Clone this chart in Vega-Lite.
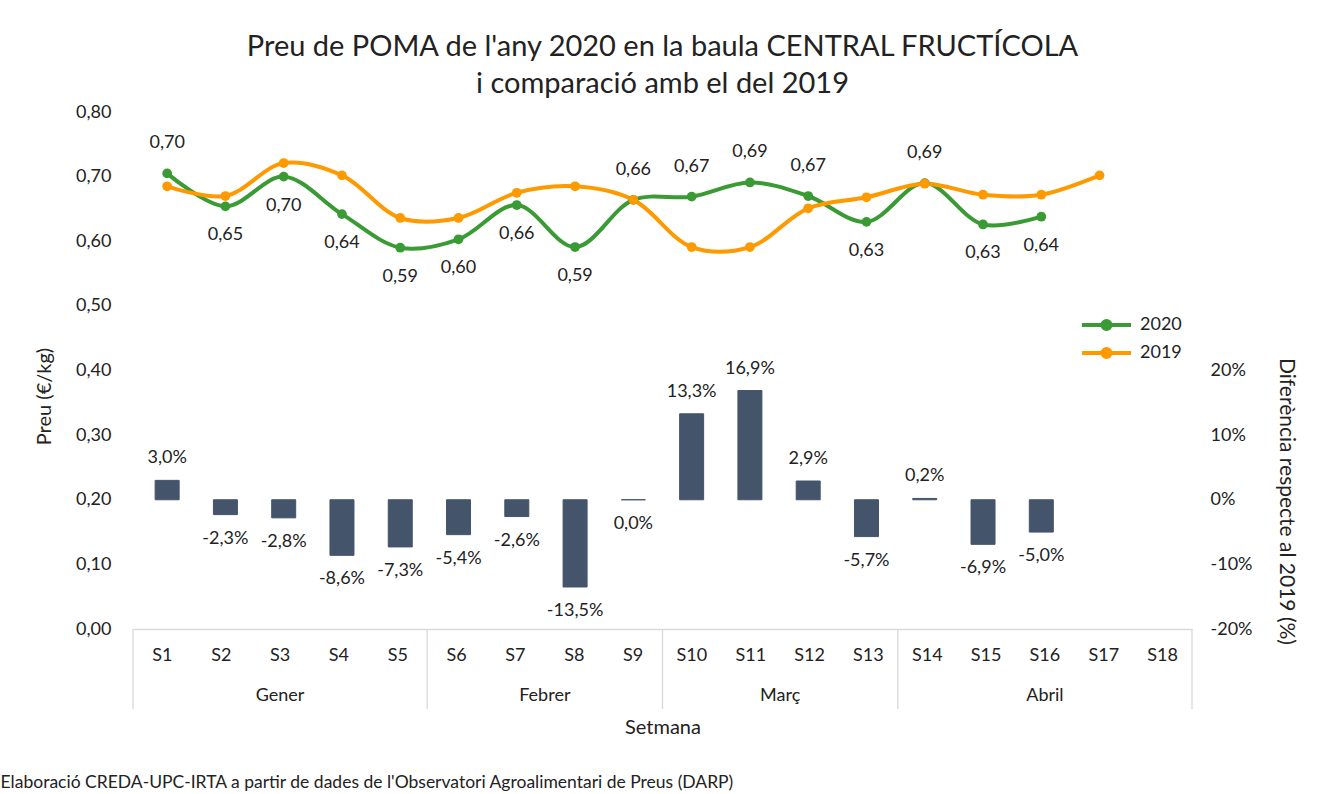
{
  "$schema": "https://vega.github.io/schema/vega-lite/v6.json",
  "padding": {"left": 0, "top": 33, "right": 5, "bottom": 0},
  "background": "white",
  "spacing": 0,
  "bounds": "flush",
  "config": {
    "locale": {"number": {"decimal": ",", "thousands": ".", "grouping": [3], "currency": ["", " €"], "minus": "-"}},
    "font": "Lato",
    "view": {"stroke": null},
    "axis": {"labelFont": "Lato", "titleFont": "Lato", "labelFontSize": 18, "titleFontSize": 20, "labelColor": "#222", "titleColor": "#222", "titleFontWeight": "normal"},
    "text": {"font": "Lato", "fontSize": 18, "color": "#222"},
    "legend": {"labelFont": "Lato", "labelFontSize": 18, "labelColor": "#222"}
  },
  "datasets": {
    "preus": [
      {"setmana": "S1", "n": 1, "2020": 0.705, "2019": 0.685, "dif": 0.030},
      {"setmana": "S2", "n": 2, "2020": 0.654, "2019": 0.670, "dif": -0.023},
      {"setmana": "S3", "n": 3, "2020": 0.700, "2019": 0.721, "dif": -0.028},
      {"setmana": "S4", "n": 4, "2020": 0.642, "2019": 0.702, "dif": -0.086},
      {"setmana": "S5", "n": 5, "2020": 0.590, "2019": 0.636, "dif": -0.073},
      {"setmana": "S6", "n": 6, "2020": 0.603, "2019": 0.636, "dif": -0.054},
      {"setmana": "S7", "n": 7, "2020": 0.656, "2019": 0.675, "dif": -0.026},
      {"setmana": "S8", "n": 8, "2020": 0.591, "2019": 0.685, "dif": -0.135},
      {"setmana": "S9", "n": 9, "2020": 0.664, "2019": 0.664, "dif": 0.0},
      {"setmana": "S10", "n": 10, "2020": 0.669, "2019": 0.591, "dif": 0.133},
      {"setmana": "S11", "n": 11, "2020": 0.691, "2019": 0.591, "dif": 0.169},
      {"setmana": "S12", "n": 12, "2020": 0.670, "2019": 0.651, "dif": 0.029},
      {"setmana": "S13", "n": 13, "2020": 0.630, "2019": 0.668, "dif": -0.057},
      {"setmana": "S14", "n": 14, "2020": 0.690, "2019": 0.689, "dif": 0.002},
      {"setmana": "S15", "n": 15, "2020": 0.626, "2019": 0.672, "dif": -0.069},
      {"setmana": "S16", "n": 16, "2020": 0.638, "2019": 0.672, "dif": -0.050},
      {"setmana": "S17", "n": 17, "2020": null, "2019": 0.702, "dif": null},
      {"setmana": "S18", "n": 18, "2020": null, "2019": null, "dif": null}
    ],
    "mesos": [
      {"mes": "Gener", "primera": 1, "darrera": 5},
      {"mes": "Febrer", "primera": 6, "darrera": 9},
      {"mes": "Març", "primera": 10, "darrera": 13},
      {"mes": "Abril", "primera": 14, "darrera": 18}
    ]
  },
  "title": {
    "text": "Elaboració CREDA-UPC-IRTA a partir de dades de l'Observatori Agroalimentari de Preus (DARP)",
    "orient": "bottom", "anchor": "start", "fontSize": 17.5, "fontWeight": "normal", "color": "#222", "offset": 37, "dx": -34
  },
  "vconcat": [
    {
      "width": 1059, "height": 517,
      "title": {
        "text": ["Preu de POMA de l'any 2020 en la baula CENTRAL FRUCTÍCOLA", "i comparació amb el del 2019"],
        "fontSize": 29, "fontWeight": "normal", "color": "#222", "lineHeight": 37, "offset": 4, "anchor": "middle"
      },
      "data": {"name": "preus"},
      "encoding": {
        "x": {"field": "n", "type": "quantitative", "scale": {"domain": [0.5, 18.5], "nice": false, "zero": false},
              "axis": {"title": null, "labels": false, "ticks": false, "grid": false, "domainColor": "#d9d9d9", "domainWidth": 1.3, "minExtent": 0, "maxExtent": 0}}
      },
      "layer": [
        {
          "encoding": {
            "y": {"field": "dif", "type": "quantitative", "scale": {"domain": [-0.2, 0.6], "nice": false, "zero": false},
                  "axis": {"orient": "right", "values": [-0.2, -0.1, 0, 0.1, 0.2], "format": ".0%", "grid": false, "domain": false, "ticks": false,
                           "labelPadding": 18, "title": "Diferència respecte al 2019 (%)", "titleFontSize": 21, "titlePadding": 24, "titleY": 389}}
          },
          "layer": [
            {"mark": {"type": "bar", "width": 24, "color": "#44546A", "stroke": "#44546A", "strokeWidth": 1}},
            {"transform": [{"filter": "isValid(datum.dif) && datum.dif > 0"}],
             "mark": {"type": "text", "dy": -22},
             "encoding": {"text": {"field": "dif", "type": "quantitative", "format": ".1%"}}},
            {"transform": [{"filter": "isValid(datum.dif) && datum.dif <= 0"}],
             "mark": {"type": "text", "dy": 24},
             "encoding": {"text": {"field": "dif", "type": "quantitative", "format": ".1%"}}}
          ]
        },
        {
          "transform": [{"fold": ["2020", "2019"], "as": ["any", "preu"]}, {"filter": "isValid(datum.preu)"}],
          "encoding": {
            "y": {"field": "preu", "type": "quantitative", "scale": {"domain": [0, 0.8], "nice": false},
                  "axis": {"orient": "left", "values": [0, 0.1, 0.2, 0.3, 0.4, 0.5, 0.6, 0.7, 0.8], "format": ".2f", "gridColor": "#d9d9d9", "gridWidth": 1.3,
                           "domain": false, "ticks": false, "labelPadding": 22, "title": "Preu (€/kg)", "titlePadding": 21, "titleY": 284}},
            "color": {"field": "any", "type": "nominal", "scale": {"domain": ["2020", "2019"], "range": ["#3A9A34", "#FF9900"]},
                      "legend": {"title": null, "orient": "none", "legendX": 964.5, "legendY": 204, "padding": 0,
                                 "symbolType": "M-4.9,0H4.9M0.8,0A0.8,0.8,0,1,1,-0.8,0A0.8,0.8,0,1,1,0.8,0",
                                 "symbolSize": 100, "symbolStrokeWidth": 4, "rowPadding": 4, "labelOffset": 24.5}}
          },
          "layer": [
            {"mark": {"type": "line", "interpolate": "catmull-rom", "strokeWidth": 4}},
            {"mark": {"type": "point", "filled": true, "size": 95, "opacity": 1}},
            {"transform": [{"filter": "datum.any == '2020' && indexof(['S1','S9','S10','S11','S12','S14'], datum.setmana) >= 0"}],
             "mark": {"type": "text", "dy": -30},
             "encoding": {"text": {"field": "preu", "type": "quantitative", "format": ".2f"}, "color": {"value": "#222"}}},
            {"transform": [{"filter": "datum.any == '2020' && indexof(['S1','S9','S10','S11','S12','S14'], datum.setmana) < 0"}],
             "mark": {"type": "text", "dy": 29},
             "encoding": {"text": {"field": "preu", "type": "quantitative", "format": ".2f"}, "color": {"value": "#222"}}}
          ]
        }
      ],
      "resolve": {"scale": {"y": "independent"}}
    },
    {
      "width": 1059, "height": 54,
      "encoding": {
        "x": {"field": "pos", "type": "quantitative", "scale": {"domain": [0.5, 18.5], "nice": false, "zero": false}, "axis": null}
      },
      "layer": [
        {"data": {"name": "mesos"}, "transform": [{"calculate": "datum.primera - 0.5", "as": "pos"}],
         "mark": {"type": "rule", "color": "#d9d9d9", "strokeWidth": 1.3}},
        {"data": {"name": "mesos"}, "transform": [{"filter": "datum.darrera == 18"}, {"calculate": "datum.darrera + 0.5", "as": "pos"}],
         "mark": {"type": "rule", "color": "#d9d9d9", "strokeWidth": 1.3}},
        {"data": {"name": "preus"}, "transform": [{"calculate": "datum.n", "as": "pos"}],
         "mark": {"type": "text"}, "encoding": {"text": {"field": "setmana"}}}
      ]
    },
    {
      "width": 1059, "height": 26,
      "encoding": {
        "x": {"field": "pos", "type": "quantitative", "scale": {"domain": [0.5, 18.5], "nice": false, "zero": false},
              "axis": {"title": "Setmana", "labels": false, "ticks": false, "domain": false, "grid": false, "titlePadding": 8}}
      },
      "layer": [
        {"data": {"name": "mesos"}, "transform": [{"calculate": "datum.primera - 0.5", "as": "pos"}],
         "mark": {"type": "rule", "color": "#d9d9d9", "strokeWidth": 1.3}},
        {"data": {"name": "mesos"}, "transform": [{"filter": "datum.darrera == 18"}, {"calculate": "datum.darrera + 0.5", "as": "pos"}],
         "mark": {"type": "rule", "color": "#d9d9d9", "strokeWidth": 1.3}},
        {"data": {"name": "mesos"}, "transform": [{"calculate": "(datum.primera + datum.darrera) / 2", "as": "pos"}],
         "mark": {"type": "text"}, "encoding": {"text": {"field": "mes"}}}
      ]
    }
  ]
}
